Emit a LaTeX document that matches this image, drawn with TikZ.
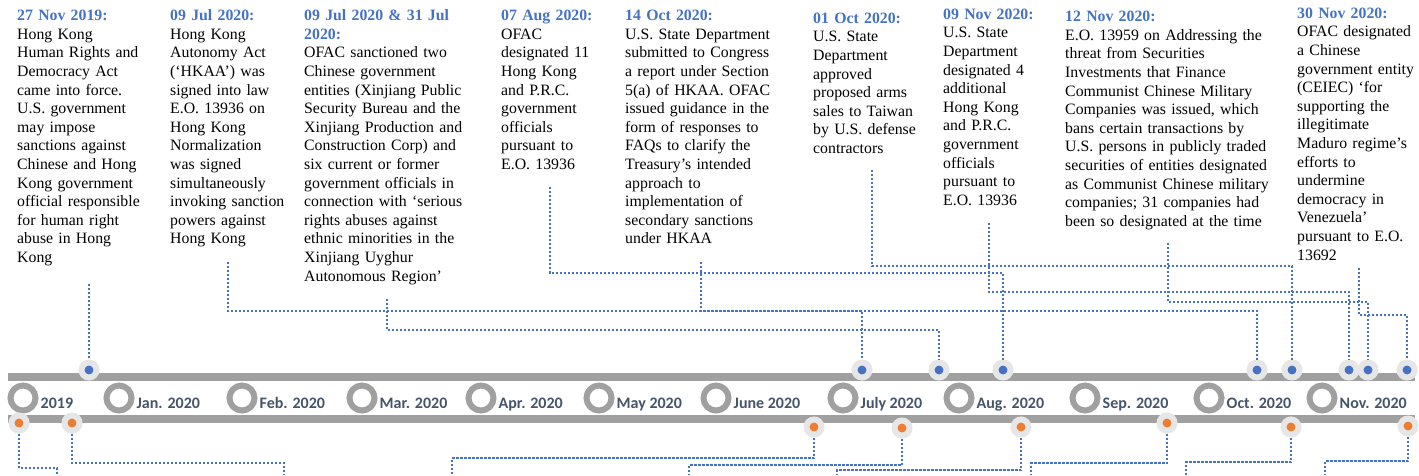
\documentclass[tikz,border=0pt]{standalone}
\usepackage{fontspec}
\setmainfont{Liberation Serif}
\newfontfamily\calfont{Carlito}
\usetikzlibrary{positioning}
\definecolor{hdblue}{HTML}{4472C4}
\definecolor{ptorange}{HTML}{ED7D31}
\definecolor{bargray}{HTML}{A0A0A0}
\definecolor{halogray}{HTML}{E6E6E6}
\definecolor{labgray}{HTML}{44546A}
\newcommand{\hdr}[1]{\textcolor{hdblue}{\bfseries #1}}
\tikzset{
  evtxt/.style={anchor=base west, align=left, inner sep=0, text width=#1,
    font=\fontsize{15.8}{18.6}\selectfont},
  mon/.style={circle, draw=bargray, line width=6pt, fill=white, minimum size=25pt, inner sep=0},
  mlab/.style={font=\calfont\bfseries\fontsize{16}{16}\selectfont, text=labgray,
    inner sep=0, text height=11pt, text depth=3pt, yshift=-6pt},
  bluept/.style={circle, draw=halogray, line width=6pt, fill=hdblue, minimum size=15pt, inner sep=0},
  orgpt/.style={bluept, fill=ptorange},
  link/.style={draw=hdblue, line width=2.4pt, dash pattern=on 2.2pt off 1.8pt},
}
\begin{document}
\begin{tikzpicture}[x=1pt, y=-1pt]
    \useasboundingbox (0,0) rectangle (1419,475);
    % Timeline bars and month rings
    \fill[bargray] (8,373) rectangle (1415,380.7);
    \fill[bargray] (8,415) rectangle (1415,423);
    \foreach \i/\x/\t in {0/23/2019, 1/119/Jan. 2020, 2/242/Feb. 2020, 3/362/Mar. 2020,
        4/481/Apr. 2020, 5/599/May 2020, 6/716/June 2020, 7/843/July 2020,
        8/959/Aug. 2020, 9/1085/Sep. 2020, 10/1209/Oct. 2020, 11/1322/Nov. 2020} {
        \node[mon] (m\i) at (\x,398) {};
        \node[mlab, right=2pt of m\i] (l\i) {\t};
    }
    % Event points
    \foreach \n/\x in {1/89, 2/862, 3/939, 4/1003, 5/1257, 6/1292, 7/1349, 8/1368, 9/1407}
        \node[bluept] (u\n) at (\x,370) {};
    \foreach \n/\x/\y in {1/19/423, 2/72/423, 3/814/427, 4/902/428, 5/1021/427,
        6/1167/423, 7/1291/427, 8/1408/426}
        \node[orgpt] (o\n) at (\x,\y) {};
    % Event texts
    \node[evtxt=135pt] (t1) at (17,20.7) {\hdr{27 Nov 2019:}\\ Hong Kong\\ Human Rights and\\
        Democracy Act\\ came into force.\\ U.S. government\\ may impose\\ sanctions against\\
        Chinese and Hong\\ Kong government\\ official responsible\\ for human right\\
        abuse in Hong\\ Kong};
    \node[evtxt=125pt] (t2) at (170,20.7) {\hdr{09 Jul 2020:}\\ Hong Kong\\ Autonomy Act\\
        (‘HKAA’) was\\ signed into law\\ E.O. 13936 on\\ Hong Kong\\ Normalization\\
        was signed\\ simultaneously\\ invoking sanction\\ powers against\\ Hong Kong};
    \node[evtxt=172pt] (t3) at (304,20.7) {\hdr{09 Jul 2020 \& 31 Jul}\\ \hdr{2020:}\\
        OFAC sanctioned two\\ Chinese government\\ entities (Xinjiang Public\\
        Security Bureau and the\\ Xinjiang Production and\\ Construction Corp) and\\
        six current or former\\ government officials in\\ connection with ‘serious\\
        rights abuses against\\ ethnic minorities in the\\ Xinjiang Uyghur\\ Autonomous Region’};
    \node[evtxt=100pt] (t4) at (501,20.7) {\hdr{07 Aug 2020:}\\ OFAC\\ designated 11\\
        Hong Kong\\ and P.R.C.\\ government\\ officials\\ pursuant to\\ E.O. 13936};
    \node[evtxt=158pt] (t5) at (625,20.7) {\hdr{14 Oct 2020:}\\ U.S. State Department\\
        submitted to Congress\\ a report under Section\\ 5(a) of HKAA. OFAC\\
        issued guidance in the\\ form of responses to\\ FAQs to clarify the\\
        Treasury’s intended\\ approach to\\ implementation of\\ secondary sanctions\\ under HKAA};
    \node[evtxt=110pt] (t6) at (813,23.3) {\hdr{01 Oct 2020:}\\ U.S. State\\ Department\\
        approved\\ proposed arms\\ sales to Taiwan\\ by U.S. defense\\ contractors};
    \node[evtxt=110pt] (t7) at (943,19.3) {\hdr{09 Nov 2020:}\\ U.S. State\\ Department\\
        designated 4\\ additional\\ Hong Kong\\ and P.R.C.\\ government\\ officials\\
        pursuant to\\ E.O. 13936};
    \node[evtxt=215pt] (t8) at (1065,21.7) {\hdr{12 Nov 2020:}\\ E.O. 13959 on Addressing the\\
        threat from Securities\\ Investments that Finance\\ Communist Chinese Military\\
        Companies was issued, which\\ bans certain transactions by\\
        U.S. persons in publicly traded\\ securities of entities designated\\
        as Communist Chinese military\\ companies; 31 companies had\\ been so designated at the time};
    \node[evtxt=122pt] (t9) at (1297,18.3) {\hdr{30 Nov 2020:}\\ OFAC designated\\ a Chinese\\
        government entity\\ (CEIEC) ‘for\\ supporting the\\ illegitimate\\ Maduro regime’s\\
        efforts to\\ undermine\\ democracy in\\ Venezuela’\\ pursuant to E.O.\\ 13692};
    % Leader lines above the timeline
    \coordinate (s1) at (89,284); \coordinate (s2) at (228,262); \coordinate (s3) at (387,299);
    \coordinate (s4) at (550,187); \coordinate (s5) at (701,262); \coordinate (s6) at (872,170);
    \coordinate (s7) at (989,223); \coordinate (s8) at (1168,243); \coordinate (s9) at (1359,268);
    \draw[link] (s1) -- (u1);
    \foreach \n/\d in {2/49, 3/31, 4/86, 5/49, 6/96, 7/69, 8/59, 9/47}
        \draw[link] (s\n) -- ++(0,\d) -| (u\n);
    % Leader lines below the timeline
    \foreach \n/\x/\d in {1/57/7, 2/284/12, 3/452/17, 4/689/10, 5/837/5, 6/1031/12,
        7/1186/13, 8/1325/14} {
        \coordinate (b\n) at (\x,475);
        \draw[link] (o\n) |- ([yshift=\d pt]b\n) -- (b\n);
    }
\end{tikzpicture}
\end{document}
